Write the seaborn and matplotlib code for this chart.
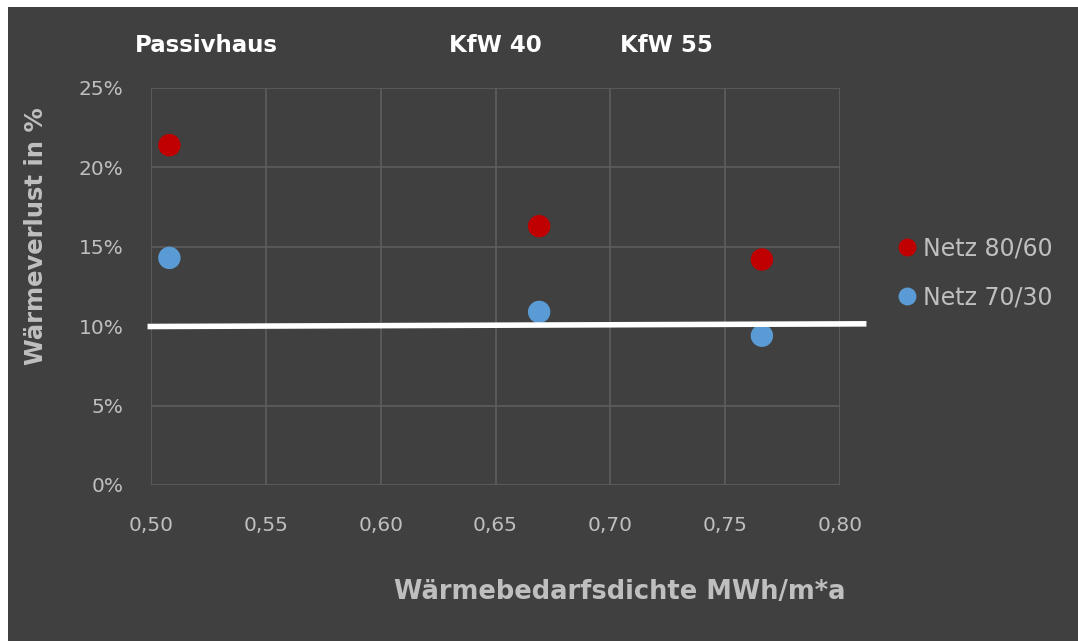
import matplotlib
matplotlib.use("Agg")
import matplotlib.pyplot as plt
import matplotlib.patches as mpatches
from matplotlib.ticker import FuncFormatter, MultipleLocator
import pandas as pd
import seaborn as sns

# Daten
dichte = [0.508, 0.669, 0.766]
verlust_80_60 = [0.214, 0.163, 0.142]
verlust_70_30 = [0.143, 0.109, 0.094]
serien = ["Netz 80/60", "Netz 70/30"]
standards = ["Passivhaus", "KfW 40", "KfW 55"]
standard_x = [0.524, 0.650, 0.7245]
grenze_x = [0.4985, 0.8115]
grenze_y = [0.0998, 0.1015]

df = pd.DataFrame({
    "x": dichte * 2,
    "y": verlust_80_60 + verlust_70_30,
    "netz": [serien[0]] * 3 + [serien[1]] * 3,
})

sns.set_theme(style="dark")
plt.rcParams["font.family"] = ["DejaVu Sans"]

bg = "#404040"
txt = "#bfbfbf"

fig = plt.figure(figsize=(10.78, 6.41), dpi=100, facecolor="white")
fig.patches.append(mpatches.Rectangle((8 / 1078, 0), 1, 1 - 7 / 641,
                                      transform=fig.transFigure,
                                      facecolor=bg, edgecolor="none", zorder=-10))
ax = fig.add_axes([151 / 1078, 1 - 485 / 641, (840 - 151) / 1078, (485 - 88) / 641])
ax.set_facecolor(bg)

sns.scatterplot(data=df, x="x", y="y", hue="netz", hue_order=serien,
                palette=["#c00000", "#5b9bd5"], s=260, edgecolor="none",
                ax=ax, zorder=3, clip_on=False)

ax.set_xlim(0.50, 0.80)
ax.set_ylim(0, 0.25)
ax.xaxis.set_major_locator(MultipleLocator(0.05))
ax.yaxis.set_major_locator(MultipleLocator(0.05))
ax.xaxis.set_major_formatter(FuncFormatter(lambda v, p: f"{v:.2f}".replace(".", ",")))
ax.yaxis.set_major_formatter(FuncFormatter(lambda v, p: f"{v * 100:.0f}%"))
ax.grid(True, color="#5e5e5e", linewidth=1.2)
for s in ax.spines.values():
    s.set_visible(False)
ax.tick_params(colors=txt, labelsize=14.5, length=0)
ax.tick_params(axis="x", pad=22)
ax.tick_params(axis="y", pad=20)

ax.set_xlabel("Wärmebedarfsdichte MWh/m*a", color=txt, fontsize=18.5,
              fontweight="bold")
ax.xaxis.set_label_coords(0.68, -0.236)
ax.set_ylabel("Wärmeverlust in %", color=txt, fontsize=17.5,
              fontweight="bold")
ax.yaxis.set_label_coords(-0.1495, 0.627)

# weisse Grenzlinie
ax.plot(grenze_x, grenze_y, color="white", linewidth=4, clip_on=False,
        solid_capstyle="butt", zorder=4)

for name, xv in zip(standards, standard_x):
    ax.text(xv, 1.106, name, transform=ax.get_xaxis_transform(), ha="center",
            va="center", color="white", fontsize=16.5, fontweight="bold")

leg = ax.legend(loc="center left", bbox_to_anchor=(1.049, 0.535), frameon=False,
                fontsize=17, handletextpad=-0.3, labelspacing=1.05,
                markerscale=0.8, borderaxespad=0)
for t in leg.get_texts():
    t.set_color(txt)

fig.savefig("out.png", dpi=100, facecolor=fig.get_facecolor())
